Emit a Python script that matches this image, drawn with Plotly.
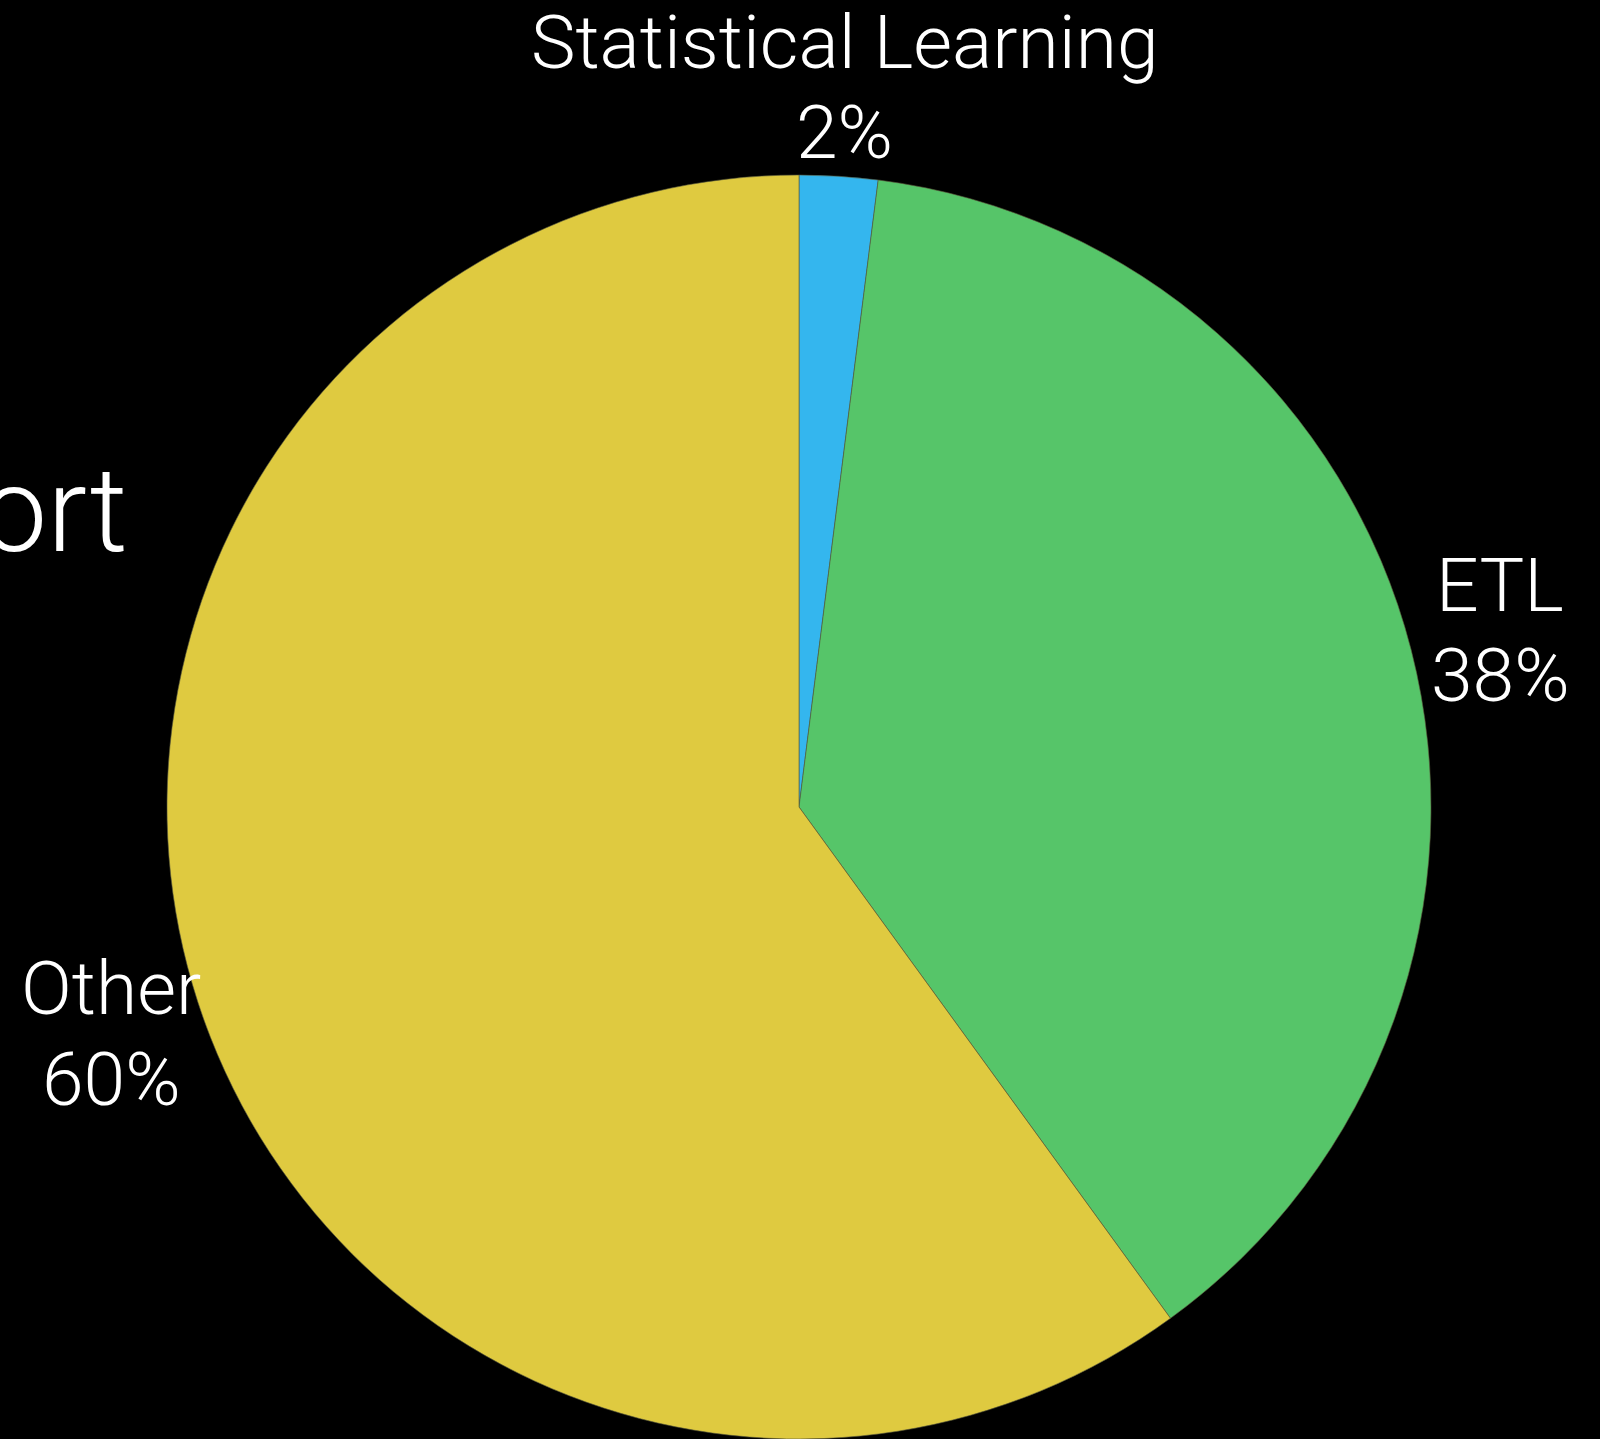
import plotly.graph_objects as go

labels = ["Statistical Learning", "ETL", "Other"]
values = [2, 38, 60]
colors = ["#34B6EE", "#56C569", "#DFCA40"]

W, H = 1600, 1439
cx, cy_top, r = 799, 807, 632
cy = H - cy_top

FONT = "Roboto, Helvetica Neue, Arial"

fig = go.Figure(go.Pie(
    labels=labels,
    values=values,
    sort=False,
    direction="clockwise",
    rotation=0,
    marker=dict(colors=colors, line=dict(color="rgba(90,90,60,0.6)", width=1)),
    textinfo="none",
    showlegend=False,
    hoverinfo="label+percent",
    domain=dict(x=[(cx - r) / W, (cx + r) / W], y=[(cy - r) / H, (cy + r) / H]),
))

# label placement (pixels from top-left): (x_center, y_label_mid, y_percent_mid)
label_pos = {
    "Statistical Learning": (845, 42, 132),
    "ETL": (1500, 585, 675),
    "Other": (111, 988, 1079),
}
total = sum(values)
for lab, val in zip(labels, values):
    x, y1, y2 = label_pos[lab]
    pct = f"{round(100 * val / total)}%"
    for txt, yy in ((lab, y1), (pct, y2)):
        fig.add_annotation(
            text=txt, x=x / W, y=1 - yy / H, xref="paper", yref="paper",
            xanchor="center", yanchor="middle", showarrow=False,
            font=dict(family=FONT, size=75, color="white", weight=300),
        )

fig.add_annotation(
    text="ort", x=130 / W, y=1 - 511 / H, xref="paper", yref="paper",
    xanchor="right", yanchor="middle", showarrow=False,
    font=dict(family=FONT, size=118, color="white", weight=300),
)

fig.update_layout(
    width=W, height=H,
    margin=dict(l=0, r=0, t=0, b=0),
    paper_bgcolor="black", plot_bgcolor="black",
)

fig.write_html(
    "out.html",
    config={"displayModeBar": False},
    post_script="document.body.style.margin='0';document.body.style.background='black';document.body.style.overflow='hidden';",
)
